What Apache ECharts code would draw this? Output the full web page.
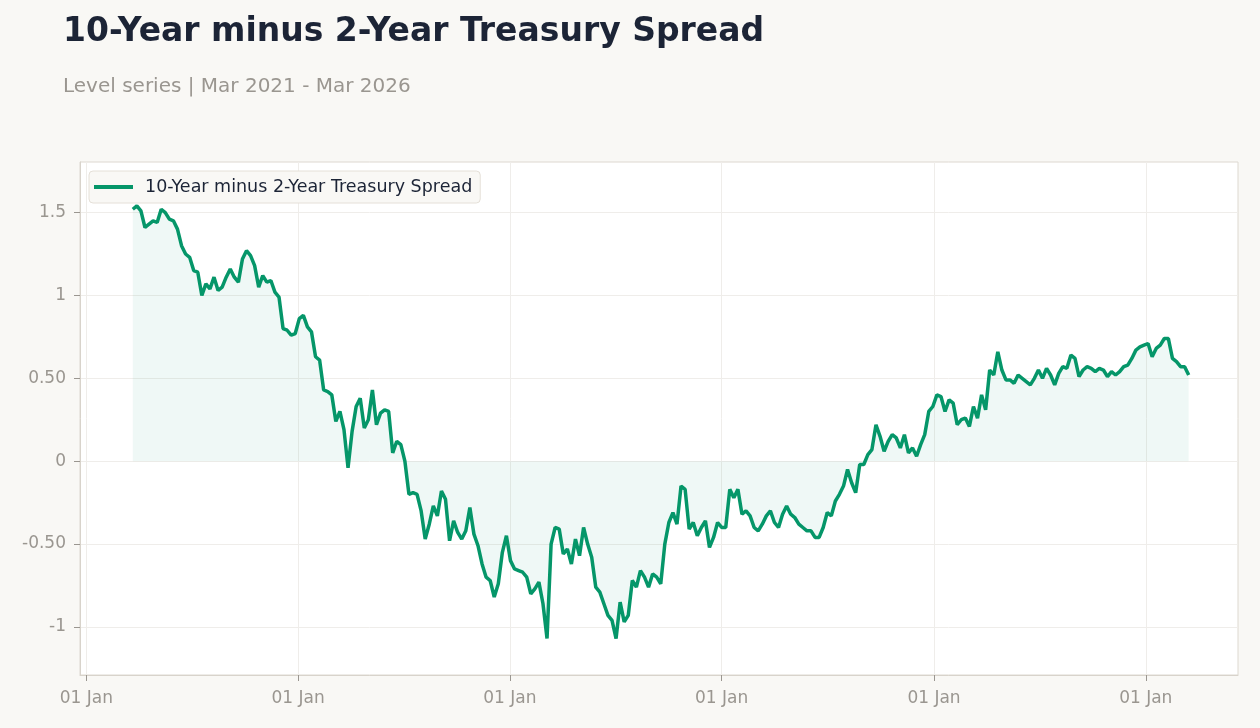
<!DOCTYPE html>
<html>
<head>
<meta charset="utf-8">
<script src="https://cdn.jsdelivr.net/npm/echarts@6/dist/echarts.min.js"></script>
<style>
html, body { margin: 0; padding: 0; background: #f9f8f5; }
#chart { width: 1260px; height: 728px; }
</style>
</head>
<body>
<div id="chart"></div>
<script>
// weekly readings of the spread, starting Mon 22 Mar 2021
var startDate = [2021, 2, 22];
var spreadValues = [
  1.52, 1.54, 1.51, 1.41, 1.43, 1.45, 1.44, 1.52, 1.50, 1.46,
  1.45, 1.40, 1.30, 1.25, 1.23, 1.15, 1.14, 1.00, 1.07, 1.04,
  1.11, 1.03, 1.05, 1.11, 1.16, 1.11, 1.08, 1.22, 1.27, 1.24,
  1.18, 1.05, 1.12, 1.08, 1.09, 1.02, 0.99, 0.80, 0.79, 0.76,
  0.77, 0.86, 0.88, 0.81, 0.78, 0.63, 0.61, 0.43, 0.42, 0.40,
  0.24, 0.30, 0.19, -0.04, 0.18, 0.33, 0.38, 0.20, 0.25, 0.43,
  0.22, 0.29, 0.31, 0.30, 0.05, 0.12, 0.10, 0.00, -0.20, -0.19,
  -0.20, -0.30, -0.47, -0.38, -0.27, -0.33, -0.18, -0.23, -0.48, -0.36,
  -0.43, -0.47, -0.42, -0.28, -0.44, -0.51, -0.62, -0.70, -0.72, -0.82,
  -0.74, -0.55, -0.45, -0.60, -0.65, -0.66, -0.67, -0.70, -0.80, -0.77,
  -0.73, -0.86, -1.07, -0.50, -0.40, -0.41, -0.56, -0.53, -0.62, -0.47,
  -0.57, -0.40, -0.50, -0.58, -0.76, -0.79, -0.86, -0.93, -0.96, -1.07,
  -0.85, -0.97, -0.93, -0.72, -0.76, -0.66, -0.70, -0.76, -0.68, -0.70,
  -0.74, -0.50, -0.37, -0.31, -0.38, -0.15, -0.17, -0.41, -0.37, -0.45,
  -0.40, -0.36, -0.52, -0.46, -0.37, -0.40, -0.40, -0.17, -0.22, -0.17,
  -0.32, -0.30, -0.33, -0.40, -0.42, -0.38, -0.33, -0.30, -0.37, -0.40,
  -0.32, -0.27, -0.32, -0.34, -0.38, -0.40, -0.42, -0.42, -0.46, -0.46,
  -0.40, -0.31, -0.33, -0.24, -0.20, -0.15, -0.05, -0.13, -0.19, -0.02,
  -0.02, 0.04, 0.07, 0.22, 0.15, 0.06, 0.12, 0.16, 0.14, 0.08,
  0.16, 0.05, 0.08, 0.03, 0.10, 0.16, 0.30, 0.33, 0.40, 0.39,
  0.30, 0.37, 0.35, 0.22, 0.25, 0.26, 0.21, 0.33, 0.26, 0.40,
  0.31, 0.55, 0.52, 0.66, 0.55, 0.49, 0.49, 0.47, 0.52, 0.50,
  0.48, 0.46, 0.50, 0.55, 0.50, 0.56, 0.52, 0.46, 0.53, 0.57,
  0.56, 0.64, 0.62, 0.51, 0.55, 0.57, 0.56, 0.54, 0.56, 0.55,
  0.51, 0.54, 0.52, 0.54, 0.57, 0.58, 0.62, 0.67, 0.69, 0.70,
  0.71, 0.63, 0.68, 0.70, 0.74, 0.74, 0.62, 0.60, 0.57, 0.57,
  0.52
];
var yTickValues = [-1, -0.5, 0, 0.5, 1, 1.5];
var yTickLabels = ['-1', '-0.50', '0', '0.50', '1', '1.5'];
var xTickYears = [2021, 2022, 2023, 2024, 2025, 2026];
var monthNames = ['Jan','Feb','Mar','Apr','May','Jun','Jul','Aug','Sep','Oct','Nov','Dec'];

var seriesData = spreadValues.map(function (v, i) {
  var d = new Date(startDate[0], startDate[1], startDate[2] + i * 7);
  return [d.getTime(), v];
});
var xTicks = xTickYears.map(function (y) { return new Date(y, 0, 1).getTime(); });

var myChart = echarts.init(document.getElementById('chart'));
var option = {
  backgroundColor: '#f9f8f5',
  animation: false,
  title: {
    text: '10-Year minus 2-Year Treasury Spread',
    subtext: 'Level series | Mar 2021 - Mar 2026',
    left: 58,
    top: 11,
    itemGap: 28,
    textStyle: { fontFamily: 'DejaVu Sans', fontSize: 33, fontWeight: 'bold', color: '#1c2436' },
    subtextStyle: { fontFamily: 'DejaVu Sans', fontSize: 20, color: '#9a9690' }
  },
  legend: {
    left: 89,
    top: 171,
    data: ['10-Year minus 2-Year Treasury Spread'],
    backgroundColor: '#f9f8f5',
    borderColor: '#e5e0d8',
    borderWidth: 1,
    borderRadius: 4,
    padding: [7, 8, 7, 5],
    itemWidth: 39,
    itemHeight: 4,
    icon: 'rect',
    textStyle: { fontFamily: 'DejaVu Sans', fontSize: 17.5, color: '#1c2436', padding: [0, 0, 0, 7] }
  },
  grid: {
    left: 80, right: 22, top: 162, bottom: 53,
    show: true,
    backgroundColor: '#ffffff',
    borderColor: '#ddd8d0',
    borderWidth: 1
  },
  xAxis: {
    type: 'value',
    min: new Date(2020, 11, 21).getTime(),
    max: new Date(2026, 5, 9).getTime(),
    axisLine: { onZero: false, lineStyle: { color: '#d8d3cb' } },
    axisTick: { show: true, customValues: xTicks, length: 6, lineStyle: { color: '#9a9690' } },
    axisLabel: {
      customValues: xTicks,
      margin: 15,
      fontFamily: 'DejaVu Sans',
      fontSize: 17,
      color: '#9a9690',
      formatter: function (v) {
        var d = new Date(v);
        return String(d.getDate()).padStart(2, '0') + ' ' + monthNames[d.getMonth()];
      }
    },
    splitLine: { show: true, lineStyle: { color: '#efedea' } }
  },
  yAxis: {
    type: 'value',
    min: -1.29,
    max: 1.805,
    axisLine: { show: true, lineStyle: { color: '#d8d3cb' } },
    axisTick: { show: true, customValues: yTickValues, length: 6, lineStyle: { color: '#9a9690' } },
    axisLabel: {
      customValues: yTickValues,
      margin: 14,
      fontFamily: 'DejaVu Sans',
      fontSize: 17,
      color: '#9a9690',
      padding: [3, 0, 0, 0],
      formatter: function (v) {
        var k = yTickValues.indexOf(Math.round(v * 100) / 100);
        return k >= 0 ? yTickLabels[k] : '';
      }
    },
    splitLine: { show: true, lineStyle: { color: '#efedea' } }
  },
  series: [{
    name: '10-Year minus 2-Year Treasury Spread',
    type: 'line',
    data: seriesData,
    showSymbol: false,
    symbol: 'none',
    color: '#059669',
    lineStyle: { width: 3.5, color: '#059669' },
    areaStyle: { color: 'rgba(5,150,105,0.09)' }
  }]
};
if (option && typeof option === "object") {
  myChart.setOption(option, true);
  window.addEventListener('resize', function () { myChart.resize(); });
}
</script>
</body>
</html>
